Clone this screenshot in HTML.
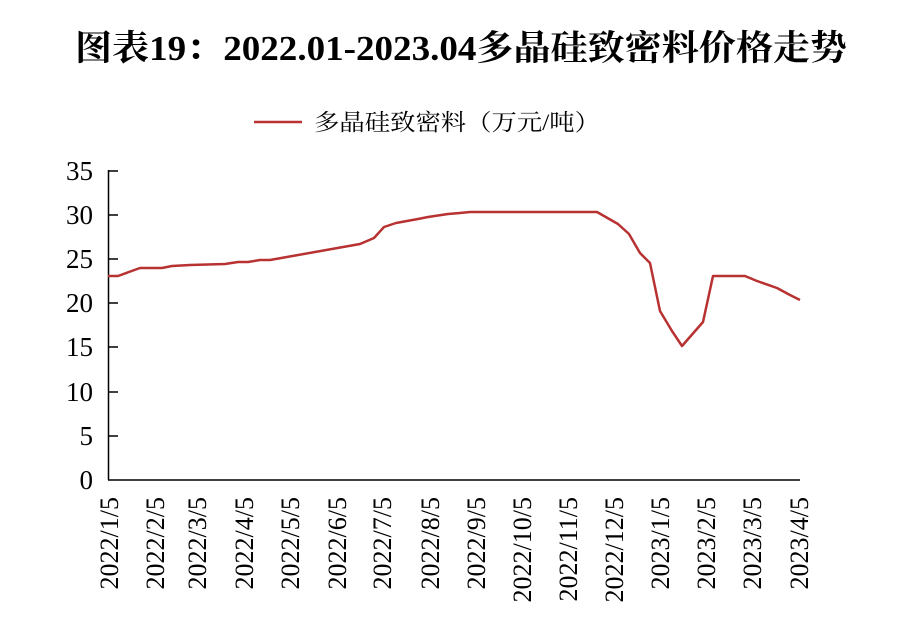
<!DOCTYPE html>
<html><head><meta charset="utf-8"><style>
body{margin:0;background:#fff;width:916px;height:624px;overflow:hidden}
</style></head><body>
<svg width="916" height="624" xmlns="http://www.w3.org/2000/svg">
<text x="461" y="60" text-anchor="middle" font-family="Liberation Serif, Noto Serif CJK SC, serif" font-weight="bold" font-size="35" textLength="772" lengthAdjust="spacingAndGlyphs">图表19：2022.01-2023.04多晶硅致密料价格走势</text>
<line x1="254" y1="122" x2="302" y2="122" stroke="#b83232" stroke-width="2.5"/>
<text x="314" y="130" font-family="Liberation Serif, Noto Serif CJK SC, serif" font-size="23" textLength="286" lengthAdjust="spacingAndGlyphs">多晶硅致密料（万元/吨）</text>
<g font-family="Liberation Serif, serif" font-size="27" text-anchor="end" fill="#000">
<text x="93" y="489">0</text><text x="93" y="445">5</text><text x="93" y="401">10</text><text x="93" y="356">15</text><text x="93" y="312">20</text><text x="93" y="268">25</text><text x="93" y="224">30</text><text x="93" y="180">35</text>
</g>
<g stroke="#000" stroke-width="1.5">
<line x1="108.5" y1="170" x2="108.5" y2="480"/>
<line x1="108" y1="480" x2="800" y2="480"/>
<line x1="108" y1="171" x2="118" y2="171"/><line x1="108" y1="215" x2="118" y2="215"/><line x1="108" y1="259" x2="118" y2="259"/><line x1="108" y1="303" x2="118" y2="303"/><line x1="108" y1="347" x2="118" y2="347"/><line x1="108" y1="392" x2="118" y2="392"/><line x1="108" y1="436" x2="118" y2="436"/>
</g>
<polyline fill="none" stroke="#b83232" stroke-width="2.5" stroke-linejoin="round" points="108,276 118,276 140,268 162,268 172,266 190,265 225,264 238,262 248,262 260,260 270,260 360,244 374,238 384,227 396,223 418,219 428,217 448,214 460,213 470,212 597,212 618,224 629,234 640,253 650,263 660,311 672,331 682,346 703,322 713,276 745,276 757,281 777,288 790,295 800,300"/>
<g font-family="Liberation Serif, serif" font-size="26" fill="#000" text-anchor="end">
<text transform="translate(118,497) rotate(-90)">2022/1/5</text>
<text transform="translate(164,497) rotate(-90)">2022/2/5</text>
<text transform="translate(206,497) rotate(-90)">2022/3/5</text>
<text transform="translate(253,497) rotate(-90)">2022/4/5</text>
<text transform="translate(299,497) rotate(-90)">2022/5/5</text>
<text transform="translate(346,497) rotate(-90)">2022/6/5</text>
<text transform="translate(391,497) rotate(-90)">2022/7/5</text>
<text transform="translate(439,497) rotate(-90)">2022/8/5</text>
<text transform="translate(485,497) rotate(-90)">2022/9/5</text>
<text transform="translate(531,497) rotate(-90)">2022/10/5</text>
<text transform="translate(577,497) rotate(-90)">2022/11/5</text>
<text transform="translate(623,497) rotate(-90)">2022/12/5</text>
<text transform="translate(669,497) rotate(-90)">2023/1/5</text>
<text transform="translate(715,497) rotate(-90)">2023/2/5</text>
<text transform="translate(761,497) rotate(-90)">2023/3/5</text>
<text transform="translate(808,497) rotate(-90)">2023/4/5</text>
</g>
</svg>
</body></html>
